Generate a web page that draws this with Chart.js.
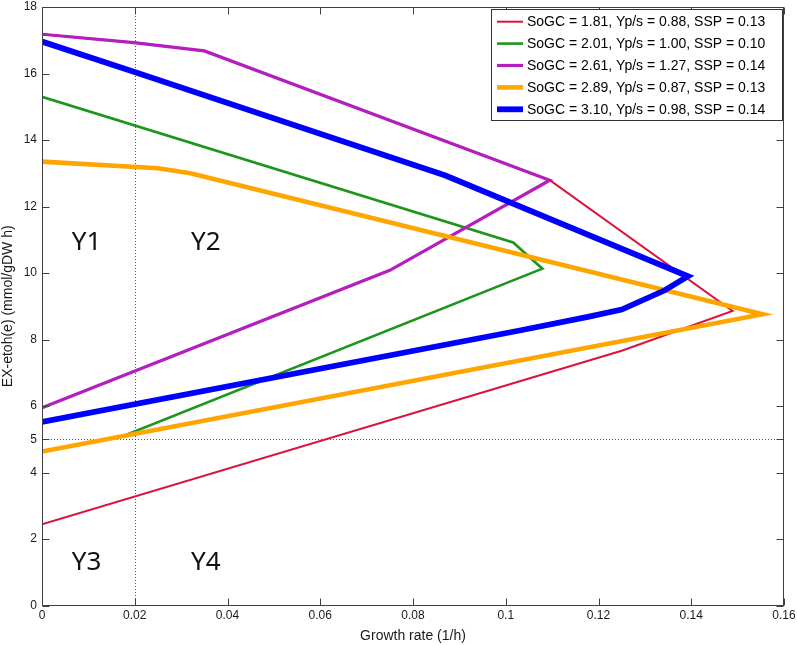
<!DOCTYPE html>
<html lang="en">
<head>
<meta charset="UTF-8">
<title>EX-etoh(e) vs growth rate</title>
<script src="https://cdn.jsdelivr.net/npm/chart.js@4.4.0/dist/chart.umd.min.js"></script>
<style>
    * { margin: 0; padding: 0; }
    body { background: #fff; }
    #wrap { width: 797px; height: 645px; }
</style>
</head>
<body>
<div id="wrap"><canvas id="chart" width="797" height="645"></canvas></div>
<script>
const xTicks = [0, 0.02, 0.04, 0.06, 0.08, 0.1, 0.12, 0.14, 0.16];
const yTicks = [0, 2, 4, 5, 6, 8, 10, 12, 14, 16, 18];

const sogc = [1.81, 2.01, 2.61, 2.89, 3.10];
const yps  = [0.88, 1.00, 1.27, 0.87, 0.98];
const ssp  = [0.13, 0.10, 0.14, 0.13, 0.14];

// each envelope traced from the top-left corner round to the bottom-left
const redX = [0, 0.0198, 0.035, 0.1095, 0.1489, 0.125, 0];
const redY = [17.18, 16.93, 16.68, 12.79, 8.86, 7.66, 2.44];
const greenX = [0, 0.1016, 0.1079, 0.0174, 0];
const greenY = [15.3, 10.92, 10.13, 5.09, 4.63];
const purpleX = [0, 0.0198, 0.035, 0.1095, 0.075, 0];
const purpleY = [17.18, 16.93, 16.68, 12.79, 10.08, 5.95];
const orangeX = [0, 0.025, 0.032, 0.1554, 0];
const orangeY = [13.35, 13.15, 13.0, 8.76, 4.63];
const blueX = [0, 0.0198, 0.087, 0.1393, 0.1343, 0.125, 0.1177, 0.103, 0];
const blueY = [16.96, 16.05, 12.93, 9.9, 9.48, 8.9, 8.68, 8.27, 5.52];

// guide lines and region names
const splitX = 0.02;
const splitY = 5;
const regionNames = ['Y1', 'Y2', 'Y3', 'Y4'];

const FONT = "'Liberation Sans', Arial, sans-serif";

function pts(xs, ys) {
    return xs.map((x, i) => ({ x: x, y: ys[i] }));
}
function caseLabel(i) {
    return 'SoGC = ' + sogc[i].toFixed(2) + ', Yp/s = ' + yps[i].toFixed(2) + ', SSP = ' + ssp[i].toFixed(2);
}

const series = [
    { xs: redX, ys: redY, color: '#DC143C', width: 2 },
    { xs: greenX, ys: greenY, color: '#1E961E', width: 2.6 },
    { xs: purpleX, ys: purpleY, color: '#B41EBE', width: 3.2 },
    { xs: orangeX, ys: orangeY, color: '#FFA500', width: 4.6 },
    { xs: blueX, ys: blueY, color: '#0000FF', width: 5.8 }
];

const overlay = {
    id: 'overlay',
    beforeDatasetsDraw(chart) {
        const { ctx, chartArea: a, scales: { x, y } } = chart;
        ctx.save();
        ctx.strokeStyle = '#555';
        ctx.lineWidth = 1;
        ctx.setLineDash([1, 2]);
        const px = Math.round(x.getPixelForValue(splitX)) + 0.5;
        const py = Math.round(y.getPixelForValue(splitY)) + 0.5;
        ctx.beginPath();
        ctx.moveTo(px, a.top); ctx.lineTo(px, a.bottom);
        ctx.moveTo(a.left, py); ctx.lineTo(a.right, py);
        ctx.stroke();
        ctx.restore();
    },
    afterDatasetsDraw(chart) {
        const { ctx, chartArea: a, scales: { x, y } } = chart;
        ctx.save();

        // axes box with inward ticks on all four sides
        const L = Math.round(a.left) + 0.5, R = Math.round(a.right) - 0.5;
        const T = Math.round(a.top) + 0.5, B = Math.round(a.bottom) - 0.5;
        ctx.strokeStyle = '#404040';
        ctx.lineWidth = 1;
        ctx.strokeRect(L, T, R - L, B - T);
        ctx.beginPath();
        xTicks.forEach(v => {
            const px = Math.round(x.getPixelForValue(v)) + 0.5;
            ctx.moveTo(px, B); ctx.lineTo(px, B - 7);
            ctx.moveTo(px, T); ctx.lineTo(px, T + 7);
        });
        yTicks.forEach(v => {
            const py = Math.round(y.getPixelForValue(v)) + 0.5;
            ctx.moveTo(L, py); ctx.lineTo(L + 7, py);
            ctx.moveTo(R, py); ctx.lineTo(R - 7, py);
        });
        ctx.stroke();

        // quadrant names
        ctx.fillStyle = '#111';
        ctx.font = "26px 'Noto Sans', 'Open Sans', sans-serif";
        ctx.textAlign = 'center';
        ctx.textBaseline = 'middle';
        const cx = [0.0096, 0.0353];
        const cy = [10.9, 1.28];
        regionNames.forEach((name, i) => {
            ctx.fillText(name, x.getPixelForValue(cx[i % 2]), y.getPixelForValue(cy[Math.floor(i / 2)]));
        });

        // legend box
        const lx = 491.5, ly = 9.5, lw = 291, lh = 111;
        ctx.fillStyle = '#fff';
        ctx.fillRect(lx, ly, lw, lh);
        ctx.strokeStyle = '#333';
        ctx.lineWidth = 1;
        ctx.strokeRect(lx, ly, lw, lh);
        ctx.font = '14px ' + FONT;
        ctx.textAlign = 'left';
        ctx.textBaseline = 'middle';
        chart.data.datasets.forEach((ds, i) => {
            const rowY = 21.7 + i * 21.9;
            ctx.strokeStyle = ds.borderColor;
            ctx.lineWidth = ds.borderWidth;
            ctx.beginPath();
            ctx.moveTo(497, rowY); ctx.lineTo(523, rowY);
            ctx.stroke();
            ctx.fillStyle = '#000';
            ctx.fillText(ds.label, 527, rowY + 0.5);
        });
        ctx.restore();
    }
};

const chart = new Chart(document.getElementById('chart'), {
    type: 'line',
    data: {
        datasets: series.map((s, i) => ({
            label: caseLabel(i),
            data: pts(s.xs, s.ys),
            borderColor: s.color,
            backgroundColor: s.color,
            borderWidth: s.width,
            pointRadius: 0,
            tension: 0,
            fill: false,
            order: series.length - i
        }))
    },
    options: {
        responsive: false,
        animation: false,
        devicePixelRatio: 1,
        layout: { padding: { top: 7, right: 13, left: 0, bottom: 0 } },
        plugins: {
            legend: { display: false },
            tooltip: { enabled: false }
        },
        scales: {
            x: {
                type: 'linear',
                min: 0,
                max: 0.16,
                grid: { display: false, drawTicks: false },
                border: { display: false },
                afterBuildTicks: s => { s.ticks = xTicks.map(v => ({ value: v })); },
                afterFit: s => { s.height = 39.5; s.paddingLeft = 0; s.paddingRight = 0; },
                ticks: {
                    padding: 3,
                    maxRotation: 0,
                    color: '#1a1a1a',
                    font: { family: FONT, size: 12 },
                    callback: v => String(+v.toFixed(2))
                },
                title: {
                    display: true,
                    text: 'Growth rate (1/h)',
                    color: '#1a1a1a',
                    font: { family: FONT, size: 14 },
                    padding: { top: 0, bottom: 0 }
                }
            },
            y: {
                min: 0,
                max: 18,
                grid: { display: false, drawTicks: false },
                border: { display: false },
                afterBuildTicks: s => { s.ticks = yTicks.map(v => ({ value: v })); },
                afterFit: s => { s.width = 42; s.paddingTop = 0; s.paddingBottom = 0; },
                ticks: {
                    padding: 5,
                    color: '#1a1a1a',
                    font: { family: FONT, size: 12 },
                    callback: v => String(v)
                },
                title: {
                    display: true,
                    text: 'EX-etoh(e) (mmol/gDW h)',
                    color: '#1a1a1a',
                    font: { family: FONT, size: 14 },
                    padding: { top: 0, bottom: 0 }
                }
            }
        }
    },
    plugins: [overlay]
});
</script>
</body>
</html>
